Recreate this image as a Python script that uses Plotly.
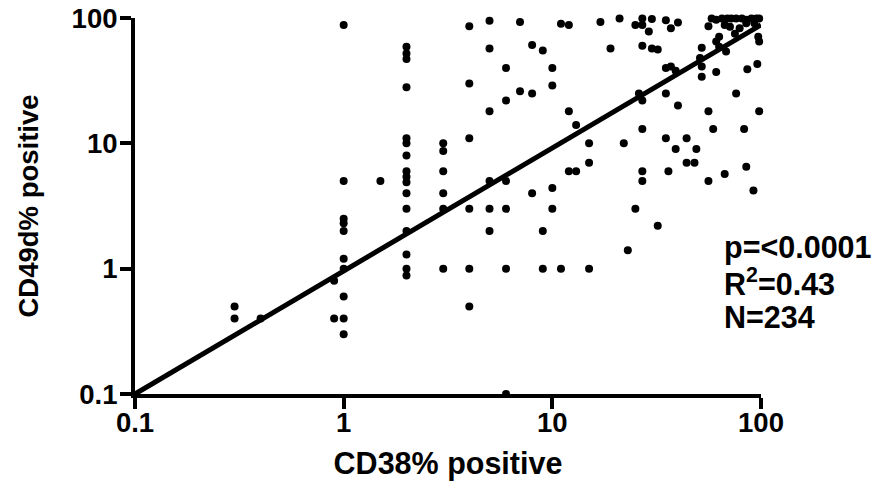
import plotly.graph_objects as go

# CD38% positive (x) and CD49d% positive (y)
cd38 = [0.3, 0.3, 0.4, 0.9, 0.9,
        1, 1, 1, 1, 1, 1, 1, 1, 1, 1,
        1.5,
        2, 2, 2, 2, 2, 2, 2, 2, 2, 2, 2, 2, 2, 2, 2, 2,
        3, 3, 3, 3, 3, 3,
        4, 4, 4, 4, 4, 4,
        5, 5, 5, 5, 5, 5,
        6, 6, 6, 6, 6, 6,
        7, 7,
        8, 8, 8,
        9, 9, 9,
        10, 10, 10, 10,
        11, 11,
        12, 12, 12,
        13, 13,
        15, 15, 15,
        17, 19, 21, 22, 23,
        25, 25, 26,
        27, 27, 27, 27, 27, 27, 27,
        29, 30, 30, 32, 32,
        35, 35, 35, 35, 36, 37, 37, 39, 39, 40, 40,
        44, 44, 48, 49, 51, 52, 52, 52,
        56, 56, 56, 58, 59, 61, 61, 61, 63, 63, 65,
        67, 67, 68, 69, 71, 72, 75, 76, 76, 79, 81,
        83, 85, 85, 85, 86, 90, 92, 93, 95, 96, 97, 98, 98, 98]
cd49d = [0.5, 0.4, 0.4, 0.8, 0.4,
         88, 5, 2.5, 2.3, 2, 1.2, 1, 0.6, 0.4, 0.3,
         5,
         59, 52, 47, 28, 11, 10, 8, 6, 5.4, 4.9, 4, 3, 2, 1.3, 1, 0.88,
         10, 8.7, 6, 4, 3, 1,
         86, 30, 11, 3, 1, 0.5,
         95, 57, 18, 5, 3, 2,
         40, 22, 5, 3, 1, 0.1,
         93, 26,
         61, 25, 4,
         55, 2, 1,
         40, 29, 4.4, 3,
         90, 1,
         88, 18, 6,
         14, 6,
         10, 7, 1,
         93, 57, 99, 10, 1.4,
         88, 3, 25,
         99, 88, 60, 22, 13, 6, 5,
         78, 98, 57, 56, 2.2,
         96, 40, 25, 11, 6, 83, 41, 38, 9, 92, 20,
         11, 7, 7, 9, 48, 58, 41, 34,
         86, 18, 5, 99, 13, 97, 65, 37, 71, 59, 99,
         88, 5.7, 54, 99, 85, 99, 75, 99, 25, 83, 99,
         13, 97, 91, 6.5, 39, 99, 4.2, 91, 99, 43, 71, 99, 65, 18]

# regression line end points
fit_x = [0.1, 100]
fit_y = [0.1, 88]

tick_vals = [0.1, 1, 10, 100]
tick_text = ["0.1", "1", "10", "100"]

stats_lines = ["p=<0.0001", "R<sup>2</sup>=0.43", "N=234"]

FONT = "Liberation Sans, Arial, Helvetica, sans-serif"

fig = go.Figure()
fig.add_trace(go.Scatter(x=cd38, y=cd49d, mode="markers",
                         marker=dict(color="black", size=8),
                         cliponaxis=False, showlegend=False))
fig.add_trace(go.Scatter(x=fit_x, y=fit_y, mode="lines",
                         line=dict(color="black", width=5),
                         showlegend=False))

axis_common = dict(type="log", range=[-1, 2], tickvals=tick_vals, ticktext=tick_text,
                   showline=True, linewidth=4, linecolor="black",
                   ticks="outside", ticklen=11, tickwidth=4, tickcolor="black",
                   showgrid=False, zeroline=False, automargin=False,
                   ticklabeloverflow="allow", layer="above traces",
                   tickfont=dict(family=FONT, size=27.5, color="black", weight="bold"))

fig.update_xaxes(**axis_common, ticklabelstandoff=-10,
                 title=dict(text="CD38% positive", standoff=17,
                            font=dict(family=FONT, size=30.5, color="black", weight="bold")))
fig.update_yaxes(**axis_common, ticklabelstandoff=-3,
                 title=dict(text="CD49d% positive", standoff=26,
                            font=dict(family=FONT, size=27.5, color="black", weight="bold")))

for i, t in enumerate(stats_lines):
    fig.add_annotation(text=t, xref="paper", yref="paper", x=0.0, y=0.0,
                       xanchor="left", yanchor="middle", showarrow=False,
                       xshift=722 - 135, yshift=(394 - 247) - 35 * i,
                       font=dict(family=FONT, size=30.5, color="black", weight="bold"))

fig.update_layout(width=879, height=490,
                  margin=dict(l=135, r=118, t=18, b=96),
                  plot_bgcolor="white", paper_bgcolor="white",
                  hovermode=False)

# remove the browser's default 8px body margin so the figure fills the window exactly
fig.write_html("out.html",
               config={"displayModeBar": False, "staticPlot": True},
               post_script="document.body.style.margin='0px';document.body.style.overflow='hidden';")
